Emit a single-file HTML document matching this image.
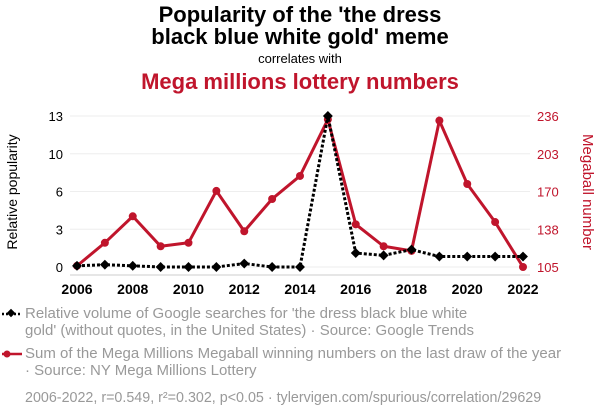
<!DOCTYPE html>
<html><head><meta charset="utf-8"><style>
body{margin:0;background:#fff;font-family:"Liberation Sans",sans-serif;}
svg text{font-family:"Liberation Sans",sans-serif;}
</style></head><body>
<svg id="chart" width="600" height="414" xmlns="http://www.w3.org/2000/svg">
<text x="300" y="22" text-anchor="middle" font-size="22" font-weight="bold" fill="#000">Popularity of the 'the dress</text>
<text x="300" y="44" text-anchor="middle" font-size="22" font-weight="bold" fill="#000">black blue white gold' meme</text>
<text x="300" y="63" text-anchor="middle" font-size="13" fill="#000">correlates with</text>
<text x="300" y="89" text-anchor="middle" font-size="22" font-weight="bold" fill="#c0152c">Mega millions lottery numbers</text>
<g id="grid"></g>
<line x1="70" y1="275" x2="530" y2="275" stroke="#ccc"/>
<g id="xt"></g><g id="lt"></g><g id="rt"></g>
<text transform="translate(17,192) rotate(-90)" text-anchor="middle" font-size="14" fill="#000">Relative popularity</text>
<text transform="translate(583,192) rotate(90)" text-anchor="middle" font-size="15" fill="#c0152c">Megaball number</text>
<g id="series"></g>
<g>
<line x1="2" y1="314" x2="22" y2="314" stroke="#000" stroke-width="2.5" stroke-dasharray="2,2"/>
<rect x="8" y="310" width="6" height="6" transform="rotate(45 11 313)" fill="#000"/>
<text x="25" y="318" font-size="15" fill="#999">Relative volume of Google searches for 'the dress black blue white</text>
<text x="25" y="335" font-size="15" fill="#999">gold' (without quotes, in the United States) · Source: Google Trends</text>
</g>
<g>
<line x1="2" y1="354" x2="22" y2="354" stroke="#c0152c" stroke-width="2.5"/>
<circle cx="7" cy="354" r="3.5" fill="#c0152c"/>
<text x="25" y="358" font-size="15" fill="#999">Sum of the Mega Millions Megaball winning numbers on the last draw of the year</text>
<text x="25" y="375" font-size="15" fill="#999">· Source: NY Mega Millions Lottery</text>
</g>
<text x="25" y="402" font-size="14.3" fill="#999">2006-2022, r=0.549, r²=0.302, p&lt;0.05 · tylervigen.com/spurious/correlation/29629</text>
</svg>
<script>
const years=[2006,2007,2008,2009,2010,2011,2012,2013,2014,2015,2016,2017,2018,2019,2020,2021,2022];
const popularity=[0.1,0.2,0.1,0,0,0,0.3,0,0,13,1.2,1.0,1.5,0.9,0.9,0.9,0.9];
const megaball=[106,126,149,123,126,171,136,164,184,233,142,123,119,232,177,144,105];
const leftTicks=["0","3","6","10","13"];
const rightTicks=["105","138","170","203","236"];
const xTicks=[2006,2008,2010,2012,2014,2016,2018,2020,2022];
const NS="http://www.w3.org/2000/svg";
const x=y=>77+(y-2006)*(523-77)/16;
const yl=v=>267-v*(267-116)/13;
const yr=v=>267-(v-105)*(267-116)/131;
function mk(t,a,p){const e=document.createElementNS(NS,t);for(const k in a)e.setAttribute(k,a[k]);document.getElementById(p).appendChild(e);return e;}
leftTicks.forEach((t,i)=>{const yy=267-i*(151/4);
 const g=mk('line',{x1:70,x2:530,y1:yy,y2:yy,stroke:'#eee'},'grid');
 
 
 const a=mk('text',{x:63,y:yy+5,'text-anchor':'end','font-size':13,fill:'#000'},'lt');a.textContent=t;
 
 
 const b=mk('text',{x:537,y:yy+5,'font-size':13,fill:'#c0152c'},'rt');b.textContent=rightTicks[i];
 
 });
xTicks.forEach(t=>{const a=mk('text',{x:x(t),y:294,'text-anchor':'middle','font-size':14,'font-weight':'bold',fill:'#000'},'xt');a.textContent=t;
 
 });
const rl=mk('polyline',{points:years.map((y,i)=>x(y)+','+yr(megaball[i])).join(' '),fill:'none',stroke:'#c0152c','stroke-width':3},'series');


years.forEach((y,i)=>{const c=mk('circle',{cx:x(y),cy:yr(megaball[i]),r:4,fill:'#c0152c'},'series');
 
 });
const bl=mk('polyline',{points:years.map((y,i)=>x(y)+','+yl(popularity[i])).join(' '),fill:'none',stroke:'#000','stroke-width':3,'stroke-dasharray':'3,2'},'series');


years.forEach((y,i)=>{const cx=x(y),cy=yl(popularity[i]);
 const d=mk('rect',{x:cx-3.5,y:cy-3.5,width:7,height:7,fill:'#000',transform:`rotate(45 ${cx} ${cy})`},'series');
 
 });
</script>
</body></html>
